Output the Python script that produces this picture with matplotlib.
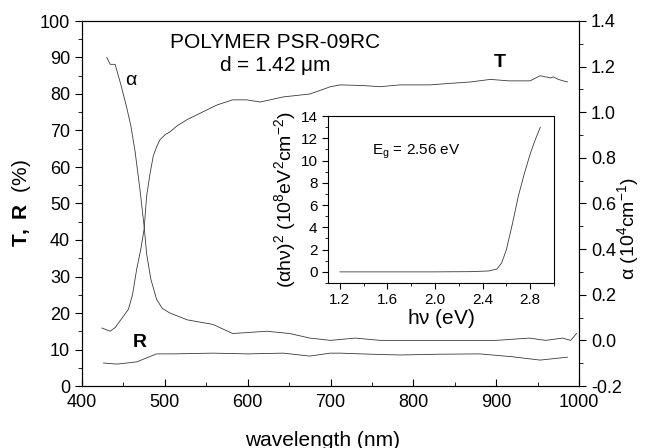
import matplotlib
matplotlib.use("Agg")
import matplotlib.pyplot as plt
from matplotlib.ticker import MultipleLocator, FormatStrFormatter

plt.rcParams['font.family'] = ['Liberation Sans', 'DejaVu Sans']
plt.rcParams['mathtext.fontset'] = 'custom'
plt.rcParams['mathtext.rm'] = 'Liberation Sans'
plt.rcParams['mathtext.it'] = 'Liberation Sans'
plt.rcParams['mathtext.bf'] = 'Liberation Sans:bold'

# transmission T (%)
t_wl = [424, 434, 440, 448, 456, 461, 466, 471, 475, 478, 482, 486, 490, 494, 500,
        506, 515, 527, 545, 563, 582, 599, 615, 643, 675, 700, 712, 740, 760, 784,
        820, 850, 869, 893, 915, 941, 953, 966, 969, 975, 981, 986]
t_val = [15.9, 15.0, 16.0, 18.5, 21.0, 25.0, 32.0, 37.5, 43.0, 52.0, 58.0, 63.0,
         65.5, 67.4, 68.8, 69.6, 71.3, 73.0, 75.0, 77.0, 78.4, 78.4, 77.8, 79.2,
         80.0, 82.0, 82.5, 82.3, 82.0, 82.5, 82.5, 83.0, 83.3, 84.0, 83.6, 83.6,
         85.0, 84.4, 84.7, 84.0, 83.6, 83.3]

# reflection R (%)
r_wl = [426, 442, 466, 490, 510, 558, 600, 643, 675, 700, 712, 750, 784, 830, 880,
        920, 953, 986]
r_val = [6.3, 6.0, 6.6, 8.8, 8.8, 9.0, 8.8, 9.0, 8.2, 9.0, 9.0, 8.7, 8.5, 8.7, 8.8,
         8.0, 7.1, 7.9]

# absorption coefficient alpha (10^4 cm^-1)
a_wl = [430, 434, 440, 447, 454, 459, 464, 470, 475, 478, 483, 490, 497, 506, 527,
        558, 582, 623, 651, 675, 700, 730, 760, 800, 850, 900, 940, 960, 980, 990,
        997]
a_val = [1.24, 1.21, 1.21, 1.12, 1.02, 0.94, 0.83, 0.66, 0.50, 0.38, 0.27, 0.18,
         0.14, 0.12, 0.09, 0.07, 0.03, 0.04, 0.03, 0.01, 0.00, 0.01, 0.00, 0.00,
         0.00, 0.00, 0.01, 0.00, 0.01, 0.00, 0.03]

# inset: (alpha h nu)^2 vs photon energy
e_hv = [1.2, 1.6, 2.0, 2.3, 2.45, 2.52, 2.56, 2.60, 2.65, 2.70, 2.75, 2.80, 2.84,
        2.885]
e_val = [0.0, 0.0, 0.0, 0.02, 0.08, 0.25, 0.8, 2.0, 4.3, 6.8, 8.8, 10.6, 11.8, 13.0]

line_kw = dict(color='#3a3a3a', lw=0.6)

fig = plt.figure(figsize=(6.46, 4.48), dpi=100)
ax = fig.add_axes([82/646, 62/448, 497/646, 365/448])
ax.plot(t_wl, t_val, **line_kw)
ax.plot(r_wl, r_val, **line_kw)
ax.set_xlim(400, 1000)
ax.set_ylim(0, 100)
ax.xaxis.set_major_locator(MultipleLocator(100))
ax.xaxis.set_minor_locator(MultipleLocator(50))
ax.yaxis.set_major_locator(MultipleLocator(10))
ax.yaxis.set_minor_locator(MultipleLocator(5))
ax.tick_params(axis='x', which='both', direction='in', labelsize=13, pad=6)
ax.tick_params(axis='y', which='both', direction='out', labelsize=13)
ax.tick_params(which='major', length=5)
ax.tick_params(which='minor', length=3)
ax.set_xlabel('wavelength (nm)', fontsize=15, va='center')
ax.xaxis.set_label_coords(0.483, -0.148)
ax.set_ylabel(r'$\mathbf{T,\ R}$  (%)', fontsize=15, va='center')
ax.yaxis.set_label_coords(-0.121, 0.5)

ax2 = ax.twinx()
ax2.plot(a_wl, a_val, **line_kw)
ax2.set_ylim(-0.2, 1.4)
ax2.yaxis.set_major_locator(MultipleLocator(0.2))
ax2.yaxis.set_minor_locator(MultipleLocator(0.1))
ax2.yaxis.set_major_formatter(FormatStrFormatter('%.1f'))
ax2.tick_params(axis='y', which='both', direction='out', labelsize=13)
ax2.tick_params(which='major', length=5)
ax2.tick_params(which='minor', length=3)
ax2.set_ylabel(r'$\alpha$ (10$^4$cm$^{-1}$)', fontsize=14, va='center')
ax2.yaxis.set_label_coords(1.099, 0.43)

ax.text(0.388, 0.942, 'POLYMER PSR-09RC', transform=ax.transAxes,
        ha='center', va='center', fontsize=15)
ax.text(0.388, 0.879, r'd = 1.42 $\mu$m', transform=ax.transAxes,
        ha='center', va='center', fontsize=15)
ax.text(0.10, 0.838, r'$\alpha$', transform=ax.transAxes,
        ha='center', va='center', fontsize=14)
ax.text(0.841, 0.885, 'T', transform=ax.transAxes, ha='center', va='center',
        fontsize=14, fontweight='bold')
ax.text(0.117, 0.12, 'R', transform=ax.transAxes, ha='center', va='center',
        fontsize=14, fontweight='bold')

ins = fig.add_axes([328/646, 165/448, 226/646, 167/448])
ins.plot(e_hv, e_val, **line_kw)
ins.set_xlim(1.1, 3.0)
ins.set_ylim(-1, 14)
ins.set_xticks([1.2, 1.6, 2.0, 2.4, 2.8])
ins.xaxis.set_minor_locator(MultipleLocator(0.2))
ins.yaxis.set_major_locator(MultipleLocator(2))
ins.yaxis.set_minor_locator(MultipleLocator(1))
ins.xaxis.set_major_formatter(FormatStrFormatter('%.1f'))
ins.tick_params(which='both', direction='out', labelsize=11)
ins.tick_params(which='major', length=4)
ins.tick_params(which='minor', length=2)
ins.set_xlabel(r'h$\nu$ (eV)', fontsize=15, labelpad=0)
ins.set_ylabel(r'($\alpha$h$\nu$)$^2$ (10$^8$eV$^2$cm$^{-2}$)', fontsize=14,
               labelpad=2)
ins.text(0.195, 0.784, r'E$_{\rm g}$ = 2.56 eV', transform=ins.transAxes,
         ha='left', va='center', fontsize=11)

fig.savefig('out.png', dpi=100)
